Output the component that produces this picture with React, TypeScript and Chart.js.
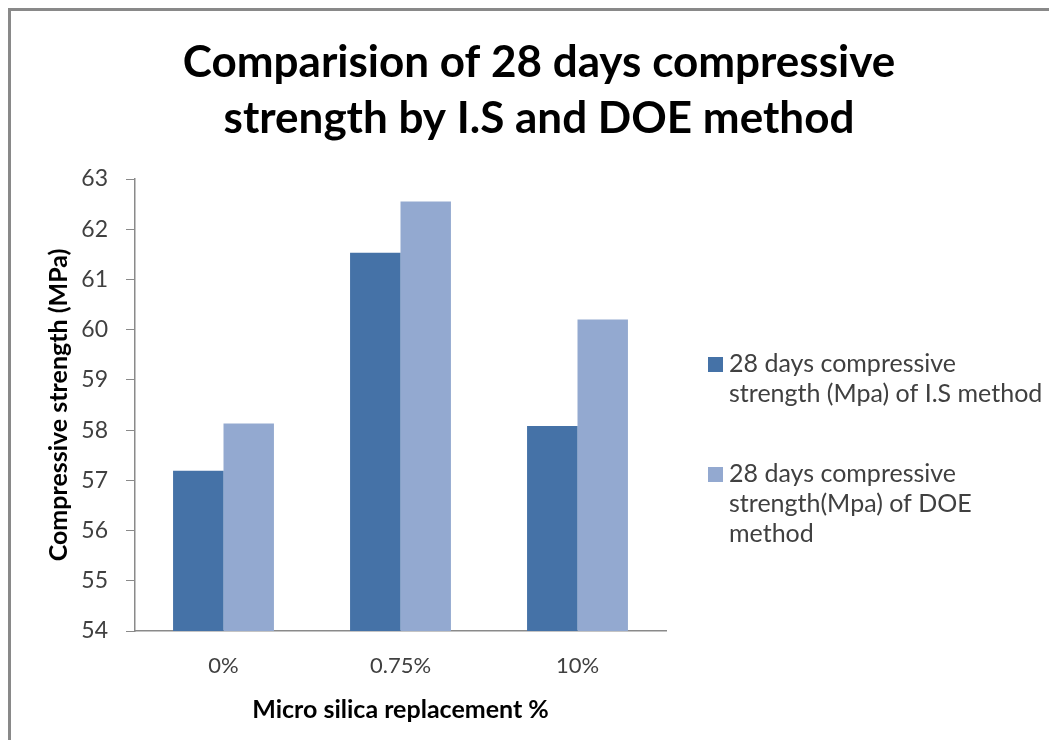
import React, { useEffect, useRef } from "react";
import { Chart, registerables } from "chart.js";

Chart.register(...registerables);

const categories = ["0%", "0.75%", "10%"];
const isValues = [57.19, 61.53, 58.08];
const doeValues = [58.13, 62.55, 60.2];
const seriesNames = [
  ["28 days compressive", "strength (Mpa) of I.S method"],
  ["28 days compressive", "strength(Mpa) of DOE", "method"],
];
const seriesColors = ["#4572A7", "#93A9D0"];
const titleLines = ["Comparision of 28 days compressive", "strength by I.S and DOE method"];
const yTitle = "Compressive strength (MPa)";
const xTitle = "Micro silica replacement %";
const yMin = 54;
const yMax = 63;

const W = 1046;
const H = 729;

const decorPlugin = {
  id: "decor",
  afterDraw(chart: any) {
    const ctx = chart.ctx;
    ctx.save();
    // title
    ctx.fillStyle = "#000";
    ctx.font = "bold 44px Lato";
    ctx.textAlign = "center";
    ctx.textBaseline = "middle";
    titleLines.forEach((t, i) => ctx.fillText(t, 528, 52 + i * 56));
    // legend
    ctx.textAlign = "left";
    ctx.font = "25px Lato";
    let y = 353;
    chart.data.datasets.forEach((ds: any, i: number) => {
      ctx.fillStyle = ds.backgroundColor;
      ctx.fillRect(697, y - 7, 15, 15);
      ctx.fillStyle = "#404040";
      seriesNames[i].forEach((line, j) => ctx.fillText(line, 718, y + j * 30));
      y += seriesNames[i].length * 30 + 50;
    });
    ctx.restore();
  },
};

export default function App() {
  const ref = useRef<HTMLCanvasElement>(null);
  useEffect(() => {
    if (!ref.current) return;
    const chart = new Chart(ref.current, {
      type: "bar",
      data: {
        labels: categories,
        datasets: [
          { label: seriesNames[0].join(" "), data: isValues, backgroundColor: seriesColors[0], categoryPercentage: 0.57, barPercentage: 1 },
          { label: seriesNames[1].join(" "), data: doeValues, backgroundColor: seriesColors[1], categoryPercentage: 0.57, barPercentage: 1 },
        ],
      },
      options: {
        responsive: false,
        animation: false,
        layout: { padding: { top: 168, right: 391, left: 0, bottom: 0 } },
        plugins: {
          legend: { display: false },
          title: { display: false },
          tooltip: { enabled: false },
        },
        scales: {
          x: {
            grid: { display: false, drawTicks: false },
            border: { display: true, color: "#8a8a8a", width: 1.5 },
            ticks: { color: "#404040", font: { family: "Lato", size: 22 }, padding: 22 },
            title: { display: true, text: xTitle, color: "#000", font: { family: "Lato", size: 25, weight: "bold" }, padding: { top: 0, bottom: 15 } },
            afterFit: (s: any) => { s.height = 109; },
          },
          y: {
            min: yMin,
            max: yMax,
            ticks: { stepSize: 1, color: "#404040", font: { family: "Lato", size: 23 }, padding: 18 },
            grid: { display: true, drawOnChartArea: false, drawTicks: true, tickLength: 9, color: "#8a8a8a" },
            border: { display: true, color: "#8a8a8a", width: 1.5 },
            title: { display: true, text: yTitle, color: "#000", font: { family: "Lato", size: 25, weight: "bold" }, padding: { top: 33, bottom: 0 } },
            afterFit: (s: any) => { s.width = 124; },
          },
        },
      },
      plugins: [decorPlugin],
    });
    return () => chart.destroy();
  }, []);
  return (
    <div
      style={{
        width: 1049,
        height: 732,
        boxSizing: "border-box",
        borderTop: "3px solid #898989",
        borderLeft: "3px solid #898989",
        background: "#fff",
      }}
    >
      <canvas ref={ref} width={W} height={H} style={{ display: "block" }} />
    </div>
  );
}
